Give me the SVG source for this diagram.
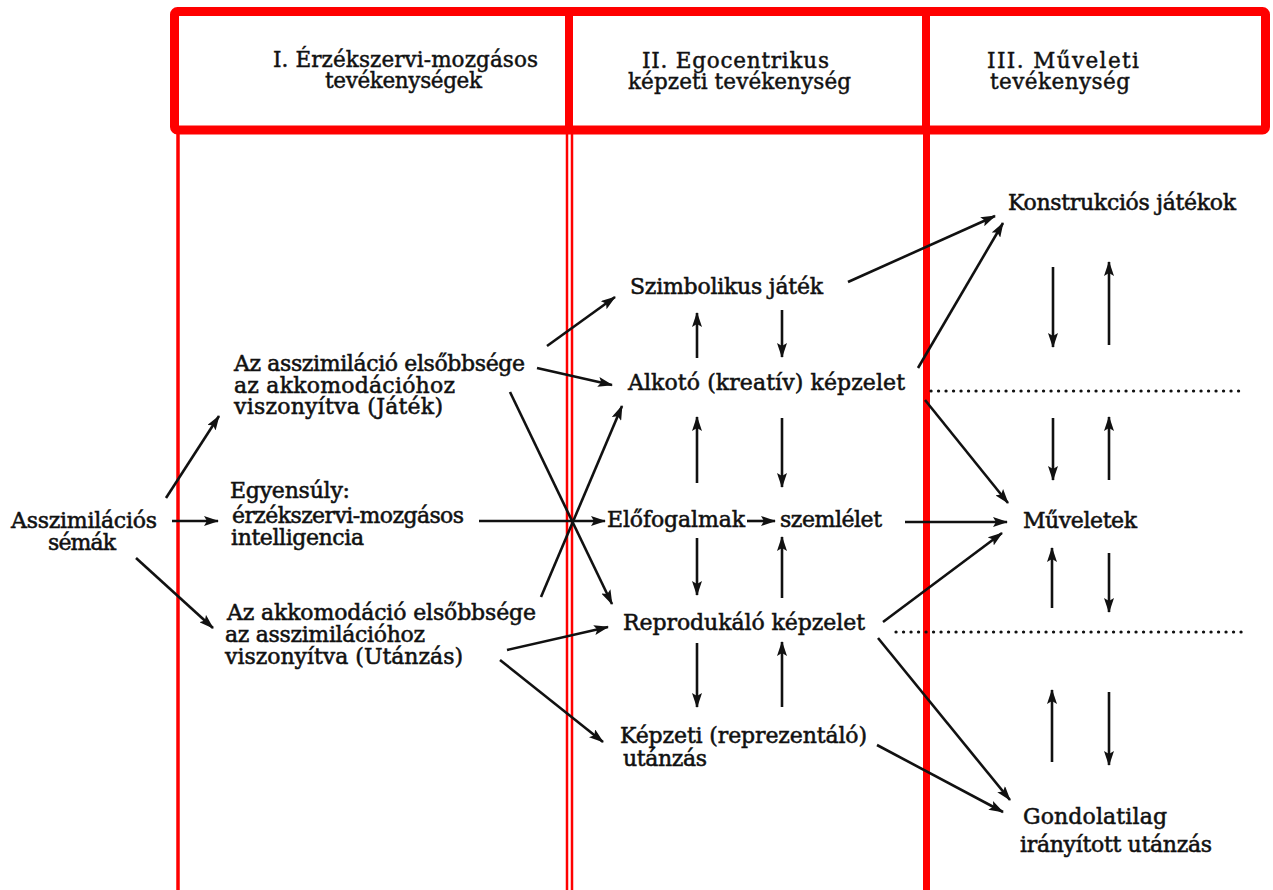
<svg xmlns="http://www.w3.org/2000/svg" width="1273" height="890" viewBox="0 0 1273 890">
<defs>
<marker id="ah" markerUnits="userSpaceOnUse" markerWidth="15" markerHeight="10" refX="14" refY="5" orient="auto">
<path d="M0,0 L15,5 L0,10 L3,5 z" fill="#111"/>
</marker>
<style>
.t{font-family:"DejaVu Serif","Liberation Serif",serif;font-size:22px;fill:#111;stroke:#111;stroke-width:0.55}
.h{font-family:"DejaVu Serif","Liberation Serif",serif;font-size:21.5px;fill:#111;stroke:#111;stroke-width:0.45}
.c line{stroke:#111;stroke-width:2.6;marker-end:url(#ah)}
.red{stroke:#ff0000;fill:none}
.dot{stroke:#111;stroke-width:3.2;stroke-dasharray:0.1 7.4;stroke-linecap:round}
</style>
</defs>
<rect width="1273" height="890" fill="#ffffff"/>

<g id="frame">
<line class="red" x1="178" y1="130" x2="178" y2="890" stroke-width="3.5"/>
<line class="red" x1="567" y1="130" x2="567" y2="890" stroke-width="2.5"/>
<line class="red" x1="572" y1="130" x2="572" y2="890" stroke-width="2.5"/>
<line class="red" x1="926.5" y1="130" x2="926.5" y2="890" stroke-width="7"/>
<rect class="red" x="174.5" y="11.5" width="1091" height="118.5" rx="3" stroke-width="9"/>
<line class="red" x1="569" y1="11" x2="569" y2="130" stroke-width="8"/>
<line class="red" x1="926" y1="11" x2="926" y2="130" stroke-width="8"/>
</g>

<g id="header1">
<text class="h" x="273" y="67" textLength="265">I. Érzékszervi-mozgásos</text>
<text class="h" x="325" y="88" textLength="157">tevékenységek</text>
</g>
<g id="header2">
<text class="h" x="642" y="68" textLength="187">II. Egocentrikus</text>
<text class="h" x="628" y="89" textLength="223">képzeti tevékenység</text>
</g>
<g id="header3">
<text class="h" x="987" y="68" textLength="152">III. Műveleti</text>
<text class="h" x="990" y="89" textLength="140">tevékenység</text>
</g>

<g id="asszimilacios-semak">
<text class="t" x="11" y="528" textLength="146">Asszimilációs</text>
<text class="t" x="48" y="550" textLength="68">sémák</text>
</g>
<g id="asszimilacio-elsobbsege">
<text class="t" x="234" y="371" textLength="291">Az asszimiláció elsőbbsége</text>
<text class="t" x="234" y="393" textLength="221">az akkomodációhoz</text>
<text class="t" x="234" y="414" textLength="209">viszonyítva (Játék)</text>
</g>
<g id="egyensuly">
<text class="t" x="230" y="498" textLength="120">Egyensúly:</text>
<text class="t" x="232" y="523" textLength="232">érzékszervi-mozgásos</text>
<text class="t" x="231" y="545" textLength="133">intelligencia</text>
</g>
<g id="akkomodacio-elsobbsege">
<text class="t" x="227" y="620" textLength="309">Az akkomodáció elsőbbsége</text>
<text class="t" x="225" y="642" textLength="200">az asszimilációhoz</text>
<text class="t" x="225" y="664" textLength="238">viszonyítva (Utánzás)</text>
</g>

<g id="szimbolikus-jatek">
<text class="t" x="630" y="294" textLength="193">Szimbolikus játék</text>
</g>
<g id="alkoto-kepzelet">
<text class="t" x="628" y="390" textLength="277">Alkotó (kreatív) képzelet</text>
</g>
<g id="elofogalmak">
<text class="t" x="607" y="527" textLength="138">Előfogalmak</text>
</g>
<g id="szemlelet">
<text class="t" x="780" y="527" textLength="102">szemlélet</text>
</g>
<g id="reprodukalo-kepzelet">
<text class="t" x="623" y="630" textLength="242">Reprodukáló képzelet</text>
</g>
<g id="kepzeti-utanzas">
<text class="t" x="620" y="743" textLength="247">Képzeti (reprezentáló)</text>
<text class="t" x="623" y="766" textLength="84">utánzás</text>
</g>

<g id="konstrukcios-jatekok">
<text class="t" x="1008" y="210" textLength="228">Konstrukciós játékok</text>
</g>
<g id="muveletek">
<text class="t" x="1023" y="528" textLength="114">Műveletek</text>
</g>
<g id="gondolatilag">
<text class="t" x="1023" y="824" textLength="144">Gondolatilag</text>
<text class="t" x="1020" y="852" textLength="192">irányított utánzás</text>
</g>

<g id="connectors" class="c">
<line x1="166" y1="498" x2="219" y2="416"/>
<line x1="172" y1="521" x2="218" y2="521"/>
<line x1="136" y1="558" x2="213" y2="628"/>
<line x1="479" y1="521" x2="605" y2="521"/>
<line x1="510" y1="392" x2="612" y2="604"/>
<line x1="541" y1="597" x2="622" y2="406"/>
<line x1="547" y1="346" x2="615" y2="297"/>
<line x1="537" y1="368" x2="612" y2="385"/>
<line x1="507" y1="650" x2="608" y2="627"/>
<line x1="500" y1="660" x2="603" y2="742"/>
<line x1="747" y1="521" x2="775" y2="521"/>
<line x1="697" y1="358" x2="697" y2="313"/>
<line x1="782" y1="310" x2="782" y2="357"/>
<line x1="697" y1="483" x2="697" y2="417"/>
<line x1="782" y1="418" x2="782" y2="487"/>
<line x1="697" y1="538" x2="697" y2="595"/>
<line x1="782" y1="598" x2="782" y2="537"/>
<line x1="697" y1="643" x2="697" y2="707"/>
<line x1="782" y1="707" x2="782" y2="642"/>
<line x1="848" y1="282" x2="995" y2="216"/>
<line x1="918" y1="368" x2="1003" y2="223"/>
<line x1="925" y1="400" x2="1008" y2="503"/>
<line x1="905" y1="522" x2="1007" y2="522"/>
<line x1="883" y1="622" x2="1002" y2="533"/>
<line x1="878" y1="638" x2="1010" y2="800"/>
<line x1="877" y1="745" x2="1003" y2="812"/>
<line x1="1053" y1="267" x2="1053" y2="347"/>
<line x1="1109" y1="345" x2="1109" y2="262"/>
<line x1="1053" y1="418" x2="1053" y2="480"/>
<line x1="1109" y1="480" x2="1109" y2="417"/>
<line x1="1052" y1="608" x2="1052" y2="548"/>
<line x1="1109" y1="553" x2="1109" y2="612"/>
<line x1="1052" y1="762" x2="1052" y2="690"/>
<line x1="1109" y1="692" x2="1109" y2="765"/>
</g>
<g id="dotted">
<line class="dot" x1="931" y1="391" x2="1243" y2="391"/>
<line class="dot" x1="896" y1="632" x2="1243" y2="632"/>
</g>
</svg>
